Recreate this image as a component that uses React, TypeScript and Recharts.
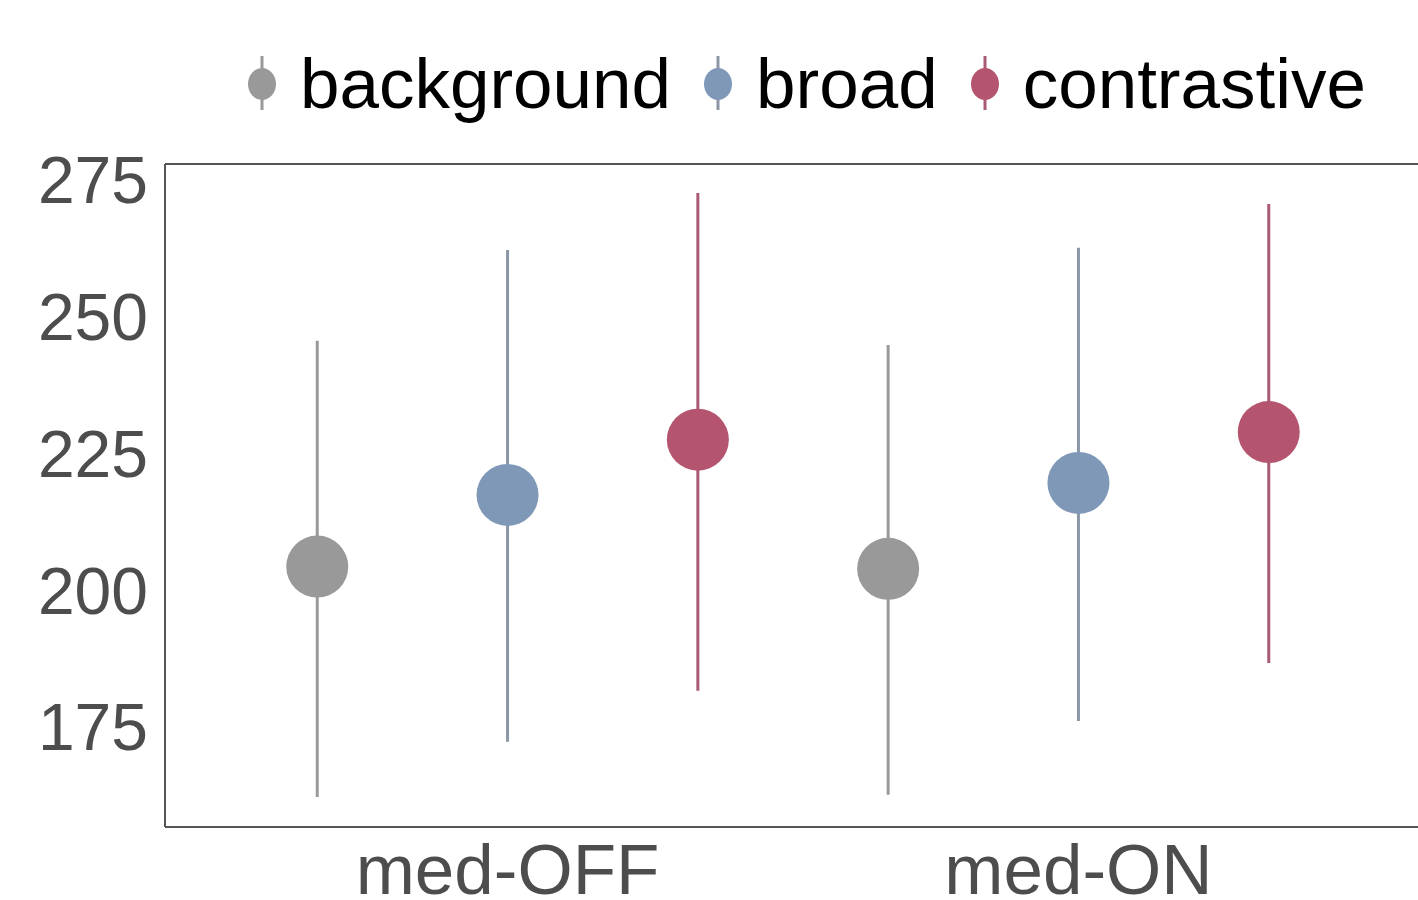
import React from 'react';
import { ComposedChart, Scatter, XAxis, YAxis, ErrorBar, Legend, ReferenceLine } from 'recharts';

const categories = ['med-OFF', 'med-ON'];
const groups = ['background', 'broad', 'contrastive'];

const backgroundMean = [204.3, 203.9];
const backgroundLow = [162.2, 162.6];
const backgroundHigh = [245.6, 244.8];

const broadMean = [217.4, 219.6];
const broadLow = [172.3, 176.1];
const broadHigh = [262.2, 262.6];

const contrastiveMean = [227.5, 228.9];
const contrastiveLow = [181.6, 186.7];
const contrastiveHigh = [272.6, 270.6];

const yTicks = [175, 200, 225, 250, 275];
const yDomain = [156.7, 277.9];

const pointColors = ['#999999', '#7f98b8', '#b4546f'];
const lineColors = ['#999999', '#8c97a6', '#a85a77'];

const DODGE = 1 / 3;
const FONT = '"Liberation Sans", Arial, sans-serif';

const seriesStats = [
  { mean: backgroundMean, low: backgroundLow, high: backgroundHigh },
  { mean: broadMean, low: broadLow, high: broadHigh },
  { mean: contrastiveMean, low: contrastiveLow, high: contrastiveHigh },
];

const seriesData = seriesStats.map((s, g) =>
  categories.map((c, i) => ({
    x: i + 1 + (g - 1) * DODGE,
    y: s.mean[i],
    err: [s.mean[i] - s.low[i], s.high[i] - s.mean[i]],
  }))
);

const makeShape = (color: string) => (props: any) => (
  <circle cx={props.cx} cy={props.cy} r={31} fill={color} />
);

const LegendContent = () => (
  <div
    style={{
      display: 'flex',
      alignItems: 'center',
      fontFamily: FONT,
      fontSize: 71,
      lineHeight: 1,
      color: '#000',
      paddingLeft: 242,
      paddingTop: 48,
    }}
  >
    {groups.map((g, i) => (
      <div key={g} style={{ display: 'flex', alignItems: 'center', marginRight: 27 }}>
        <svg width={40} height={71} style={{ marginRight: 18 }}>
          <line x1={20} x2={20} y1={8} y2={62} stroke={lineColors[i]} strokeWidth={3} />
          <ellipse cx={20} cy={36} rx={14} ry={16} fill={pointColors[i]} />
        </svg>
        <span>{g}</span>
      </div>
    ))}
  </div>
);

export default function App() {
  return (
    <div
      style={{
        position: 'absolute',
        left: 0,
        top: 0,
        width: 1418,
        height: 900,
        overflow: 'hidden',
        background: '#fff',
      }}
    >
      <ComposedChart
        width={1421}
        height={900}
        margin={{ top: 164, right: 0, bottom: 0, left: 0 }}
      >
        <XAxis
          type="number"
          dataKey="x"
          domain={[0.4, 2.6]}
          ticks={[1, 2]}
          tickFormatter={(v: number) => categories[Math.round(v) - 1]}
          allowDataOverflow
          height={73}
          tickLine={false}
          tickSize={0}
          tickMargin={17}
          axisLine={{ stroke: '#555555', strokeWidth: 2 }}
          tick={{ fill: '#4d4d4d', fontSize: 71, fontFamily: FONT }}
        />
        <YAxis
          type="number"
          domain={yDomain}
          ticks={yTicks}
          allowDataOverflow
          width={165}
          tickLine={false}
          tickSize={0}
          tickMargin={17}
          axisLine={{ stroke: '#555555', strokeWidth: 2 }}
          tick={{ fill: '#4d4d4d', fontSize: 66, fontFamily: FONT }}
        />
        <ReferenceLine
          y={yDomain[1]}
          stroke="#555555"
          strokeWidth={2}
          ifOverflow="visible"
        />
        <Legend
          layout="horizontal"
          verticalAlign="middle"
          align="center"
          wrapperStyle={{ top: 0, left: 0, width: 1418 }}
          content={<LegendContent />}
        />
        {groups.map((g, i) => (
          <Scatter
            key={g}
            name={g}
            data={seriesData[i]}
            dataKey="y"
            fill={pointColors[i]}
            shape={makeShape(pointColors[i])}
            isAnimationActive={false}
          >
            <ErrorBar
              dataKey="err"
              direction="y"
              width={0}
              stroke={lineColors[i]}
              strokeWidth={3}
              isAnimationActive={false}
            />
          </Scatter>
        ))}
      </ComposedChart>
    </div>
  );
}
